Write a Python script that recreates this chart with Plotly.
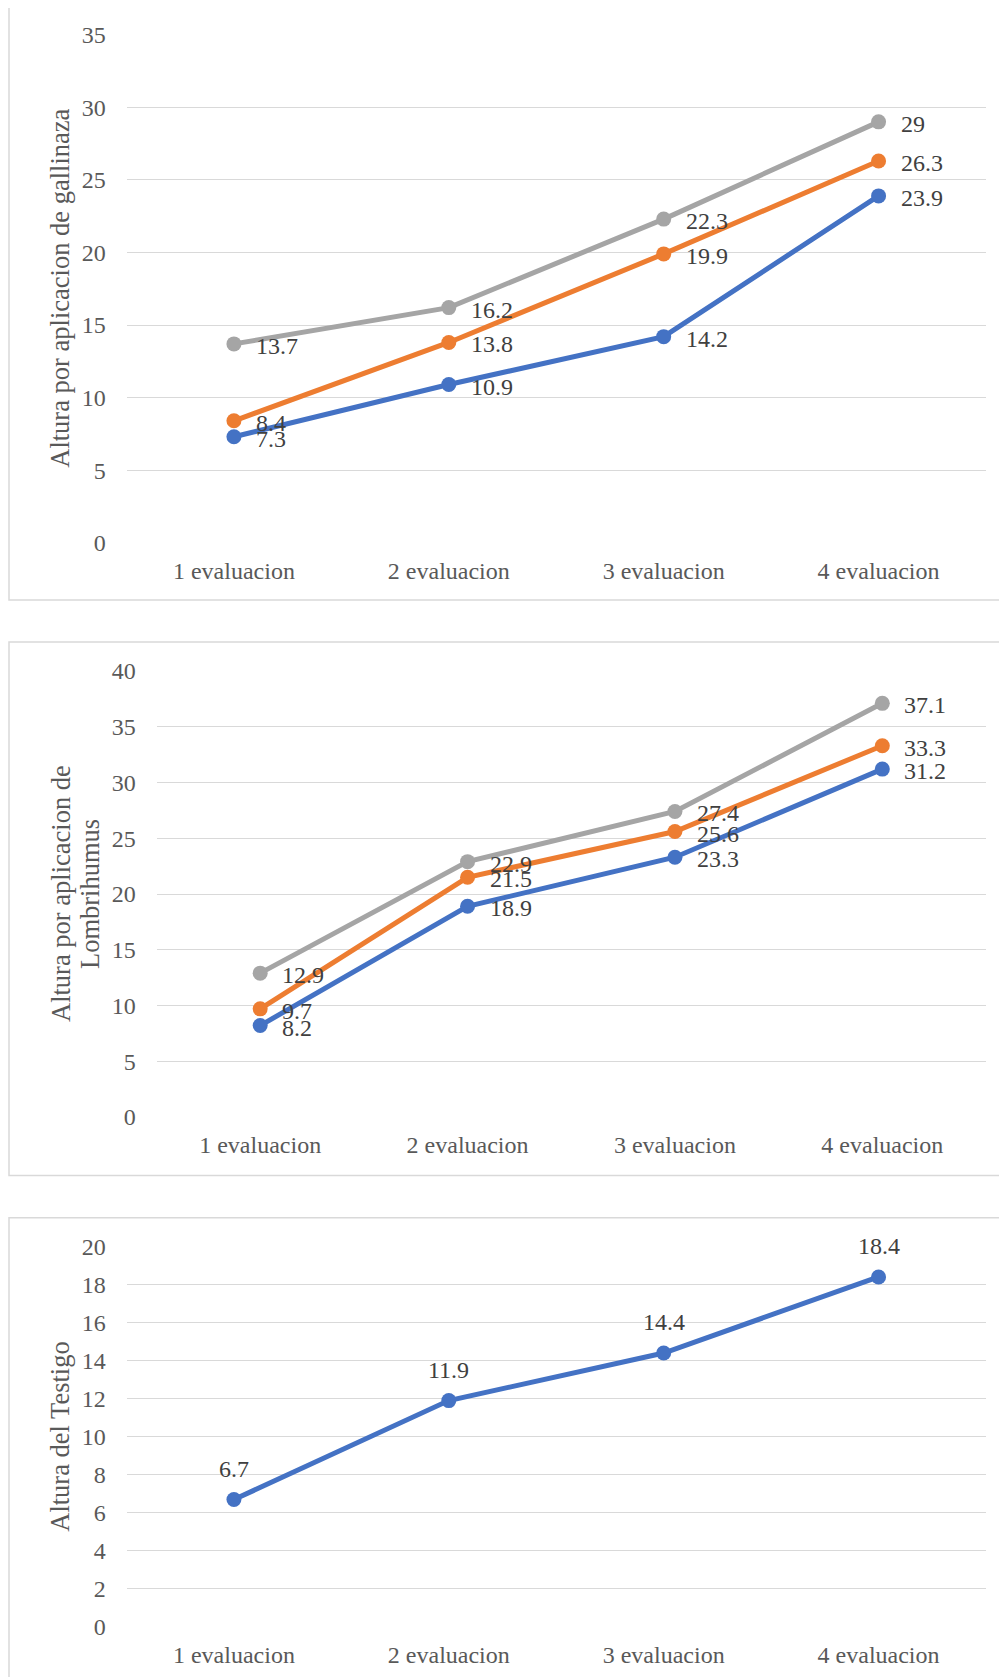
import plotly.graph_objects as go

# page offset: the html body has an 8px margin, so the figure starts at (8, 8)
OFF = 8
W, H = 1007 - OFF, 1677 - OFF

categories = ["1 evaluacion", "2 evaluacion", "3 evaluacion", "4 evaluacion"]

gallinaza_blue = [7.3, 10.9, 14.2, 23.9]
gallinaza_orange = [8.4, 13.8, 19.9, 26.3]
gallinaza_gray = [13.7, 16.2, 22.3, 29]

lombri_blue = [8.2, 18.9, 23.3, 31.2]
lombri_orange = [9.7, 21.5, 25.6, 33.3]
lombri_gray = [12.9, 22.9, 27.4, 37.1]

testigo_blue = [6.7, 11.9, 14.4, 18.4]

title1 = "Altura por aplicacion de gallinaza"
title2_lines = ["Altura por aplicacion de", "Lombrihumus"]
title3 = "Altura del Testigo"

BLUE = "#4472C4"
ORANGE = "#ED7D31"
GRAY = "#A5A5A5"
GRID = "#D9D9D9"
TXT = "#595959"
LBL = "#404040"
FONT = "Liberation Serif"
TICK_SIZE = 24
LABEL_SIZE = 24
TITLE_SIZE = 26.5


def px(x):
    return (x - OFF) / W


def py(y):
    return 1 - (y - OFF) / H


fig = go.Figure()

panels = [
    ("x", "y", (126.5, 986), (34.8, 542.7), [0, 35], 5),
    ("x2", "y2", (156.5, 986), (671, 1117), [0, 40], 5),
    ("x3", "y3", (126.5, 986), (1246.5, 1627), [0, 20], 2),
]

series = [
    [(gallinaza_blue, BLUE), (gallinaza_orange, ORANGE), (gallinaza_gray, GRAY)],
    [(lombri_blue, BLUE), (lombri_orange, ORANGE), (lombri_gray, GRAY)],
    [(testigo_blue, BLUE)],
]

annotations = []
for pi, (xa, ya, xd, yd, yr, dt) in enumerate(panels):
    for vals, col in series[pi]:
        fig.add_trace(go.Scatter(
            x=categories, y=vals, xaxis=xa, yaxis=ya, mode="lines+markers",
            line=dict(color=col, width=5), marker=dict(color=col, size=15),
            showlegend=False, hoverinfo="skip", cliponaxis=False,
        ))
        for c, v in zip(categories, vals):
            txt = f"{v:g}"
            if pi < 2:
                annotations.append(dict(
                    x=c, y=v, xref=xa, yref=ya, text=txt, showarrow=False,
                    xanchor="left", yanchor="middle", xshift=20, yshift=-2,
                    font=dict(family=FONT, size=LABEL_SIZE, color=LBL)))
            else:
                annotations.append(dict(
                    x=c, y=v, xref=xa, yref=ya, text=txt, showarrow=False,
                    xanchor="center", yanchor="middle", yshift=31,
                    font=dict(family=FONT, size=LABEL_SIZE, color=LBL)))
    suffix = "" if pi == 0 else str(pi + 1)
    fig.layout["xaxis" + suffix] = dict(
        domain=[px(xd[0]), px(xd[1])], anchor=ya, type="category",
        range=[-0.5, 3.5], showgrid=False, showline=False, zeroline=False,
        ticks="outside", ticklen=6, tickcolor="rgba(0,0,0,0)", automargin=False,
        tickfont=dict(family=FONT, size=TICK_SIZE, color=TXT), fixedrange=True)
    fig.layout["yaxis" + suffix] = dict(
        domain=[py(yd[1]), py(yd[0])], anchor=xa, range=yr, dtick=dt,
        showgrid=True, gridcolor=GRID, gridwidth=1.4, zeroline=False,
        showline=False, ticks="outside", ticklen=15, tickcolor="rgba(0,0,0,0)",
        automargin=False,
        tickfont=dict(family=FONT, size=TICK_SIZE, color=TXT), fixedrange=True)

annotations.append(dict(x=px(60), y=py((34.8 + 542.7) / 2), xref="paper", yref="paper",
                        text=title1, textangle=-90, showarrow=False,
                        xanchor="center", yanchor="middle",
                        font=dict(family=FONT, size=TITLE_SIZE, color=TXT)))
annotations.append(dict(x=px(61), y=py((671 + 1117) / 2), xref="paper", yref="paper",
                        text=title2_lines[0], textangle=-90, showarrow=False,
                        xanchor="center", yanchor="middle",
                        font=dict(family=FONT, size=TITLE_SIZE, color=TXT)))
annotations.append(dict(x=px(90), y=py((671 + 1117) / 2), xref="paper", yref="paper",
                        text=title2_lines[1], textangle=-90, showarrow=False,
                        xanchor="center", yanchor="middle",
                        font=dict(family=FONT, size=TITLE_SIZE, color=TXT)))
annotations.append(dict(x=px(60), y=py((1246.5 + 1627) / 2), xref="paper", yref="paper",
                        text=title3, textangle=-90, showarrow=False,
                        xanchor="center", yanchor="middle",
                        font=dict(family=FONT, size=TITLE_SIZE, color=TXT)))

shapes = []
for top, bot in [(5, 600), (642, 1175.5), (1217.8, 1700)]:
    shapes.append(dict(type="rect", xref="paper", yref="paper",
                       x0=px(9), x1=px(1005), y0=py(bot), y1=py(top),
                       line=dict(color=GRID, width=1.5), fillcolor="rgba(0,0,0,0)",
                       layer="below"))

fig.update_layout(
    template="none",
    width=W, height=H, margin=dict(l=0, r=0, t=0, b=0, pad=0, autoexpand=False),
    paper_bgcolor="white", plot_bgcolor="white",
    annotations=annotations, shapes=shapes, showlegend=False,
    font=dict(family=FONT, color=TXT),
)

fig.write_html("out.html", config={"displayModeBar": False})
